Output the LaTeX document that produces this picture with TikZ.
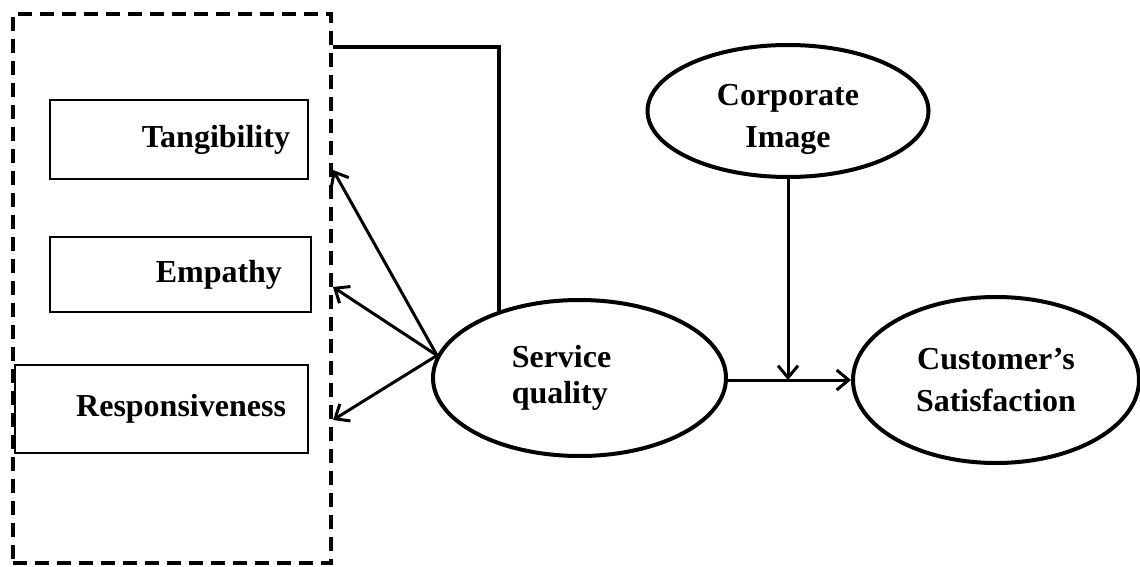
\documentclass[tikz,border=0pt]{standalone}
\usepackage{fontspec}
\setmainfont{Liberation Serif}
\usetikzlibrary{shapes.geometric, positioning, arrows.meta}

\begin{document}
\begin{tikzpicture}[x=0.5pt,y=-0.5pt,>={Straight Barb[length=6pt,width=10pt]},
  font=\fontsize{16}{21}\selectfont\bfseries,
  dim/.style={draw,rectangle,line width=1pt,minimum height=#1,align=right},
  latent/.style={draw,ellipse,line width=2pt,inner sep=0pt,align=center},
  link/.style={line width=1.5pt}]
  \useasboundingbox (0,0) rectangle (1140,567);
  % dimensions of service quality
  \node[draw,dash pattern=on 7pt off 4pt,line width=2pt,minimum width=159pt,minimum height=274.5pt] (grp) at (172,288.5) {};
  \node[dim=39.5pt,text width=111pt,inner xsep=9pt] (tang) at (179,139.5) {Tangibility};
  \node[dim=37.5pt,text width=101.5pt,inner xsep=14.5pt] (emp) at (180.5,274.5) {Empathy};
  \node[dim=44pt,text width=124.5pt,inner xsep=11pt] (resp) at (161.5,409) {Responsiveness};
  % constructs
  \node[latent,minimum width=146.5pt,minimum height=78pt,align=left,
        font=\fontsize{16}{18}\selectfont\bfseries] (sq) at (579.5,378) {Service\hspace*{18pt}\\quality};
  \node[latent,minimum width=140.5pt,minimum height=66pt] (ci) at (788,111) {\rule{0pt}{19pt}Corporate\\Image};
  \node[latent,minimum width=143pt,minimum height=83pt] (cs) at (996,380) {Customer's\\Satisfaction};
  \coordinate (top) at (500,47);
  \draw[line width=2pt] (grp.east |- top) -| (sq.140.5);
  \path[->,link]
    (sq.171) edge (grp.east |- 0,170)
             edge (grp.east |- 0,287)
             edge (grp.east |- 0,420);
  \draw[->,link] (sq.east |- cs.west) -- (cs.west);
  \draw[->,link] (ci.south) -- (ci.south |- cs.west);
\end{tikzpicture}
\end{document}
